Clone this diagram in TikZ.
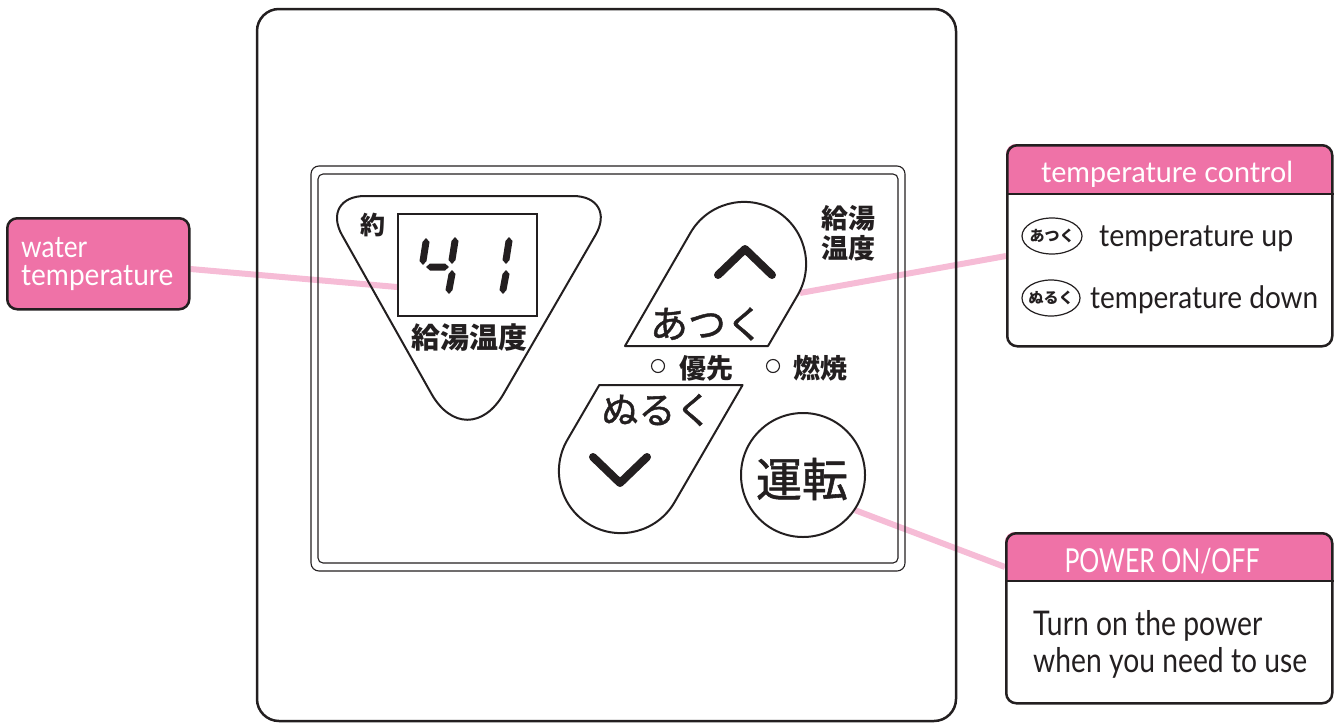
\documentclass[tikz,border=0pt]{standalone}
\usepackage{fontspec}
\usepackage{graphicx}
\usetikzlibrary{shapes.geometric,calc,backgrounds}
\setmainfont{Lato}
\newfontfamily\jp{Noto Sans CJK JP}
\newfontfamily\jpm[FakeBold=1.2]{Noto Sans CJK JP}
\definecolor{pk}{RGB}{239,114,167}
\definecolor{lpk}{RGB}{246,188,214}
\definecolor{ink}{RGB}{35,31,32}
\newcommand\fsz[1]{\fontsize{#1}{#1}\selectfont}
\newcommand\fitw[2]{\resizebox{#1pt}{\height}{#2}}
\newcommand\vseg[4]{\fill[ink] (#1,#2) -- (#1+3.5,#2+4) -- (#3+3.5,#4-4) -- (#3,#4) -- (#3-3.5,#4-4) -- (#1-3.5,#2+4) -- cycle;}
\newcommand\hseg[3]{\fill[ink] (#1,#3) -- (#1+4,#3-3.5) -- (#2-4,#3-3.5) -- (#2,#3) -- (#2-4,#3+3.5) -- (#1+4,#3+3.5) -- cycle;}
\begin{document}
\begin{tikzpicture}[x=1pt,y=-1pt,
  panel/.style={draw=ink,line width=2.5pt,rounded corners=22pt},
  frame/.style={draw=ink,line width=1.1pt,rounded corners=8pt},
  btn/.style={draw=ink,line width=2pt,line join=round},
  conn/.style={draw=lpk,line width=6pt},
  box/.style={draw=ink,line width=2.5pt,rounded corners=10pt,inner sep=0pt,anchor=north west},
  en/.style={inner sep=0pt,anchor=base west,text=ink},
  hd/.style={inner sep=0pt,anchor=base,text=white},
  jpb/.style={inner sep=0pt,text=ink,font=\jp\bfseries},
  jpr/.style={inner sep=0pt,text=ink,font=\jpm},
  chev/.style={draw=ink,line width=8pt,line cap=round,line join=round},
  led/.style={circle,draw=ink,line width=1.1pt,minimum size=13pt,inner sep=0pt}]
\useasboundingbox (0,0) rectangle (1337,723);

% panel and display frame
\draw[panel] (257,9) rectangle (956,721);
\draw[frame] (311,166) rectangle (905,571);
\draw[frame,rounded corners=5pt] (318,174) rectangle (898,563);

% rounded triangle display
\draw[btn] (365,196) -- (573,196)
  .. controls (597.8,196) and (607.9,213.6) .. (595.5,235)
  -- (503.6,393.8)
  .. controls (483.5,428.6) and (450.9,428.4) .. (431.2,393.4)
  -- (342.1,235.2)
  .. controls (329.9,213.6) and (340.25,196) .. (365,196) -- cycle;
\node[draw=ink,line width=2pt,minimum width=139pt,minimum height=102pt,anchor=north west,inner sep=0pt] (disp) at (397,213) {};
\vseg{426}{238}{423}{265}
\hseg{426}{449}{267}
\vseg{455}{237}{452}{264}
\vseg{452}{270}{449}{294}
\vseg{509}{237}{506}{264}
\vseg{506}{270}{503}{294}
\node[jpb] (yaku) at (373,225) {\fsz{25}約};
\node[jpb] (kyuto) at (469,338) {\fsz{29}給湯温度};

% up button
\draw[btn] (625,346) -- (690.4,232.9) arc[start angle=210,end angle=390,radius=62] -- (768,346) -- cycle;
\coordinate (upR) at (800,293);
\draw[chev] (718,275) -- (745,249) -- (772,275);
\node[jpr] (atsuku) at (707,324) {\fsz{38}あつく};
\node[jpb] (kyu2a) at (848,218) {\fsz{27}給湯};
\node[jpb] (kyu2b) at (848,248) {\fsz{27}温度};

% indicators
\node[led] (led1) at (658,366) {};
\node[jpb] (yusen) at (706,368.5) {\fsz{27}優先};
\node[led] (led2) at (773,366) {};
\node[jpb] (nensho) at (820.5,368.5) {\fsz{27}燃焼};

% down button
\draw[btn] (599.3,385) -- (742.6,385) -- (674.6,502.1) arc[start angle=30,end angle=210,radius=62] -- cycle;
\draw[chev] (593,457) -- (620,483) -- (647,457);
\node[jpr] (nuruku) at (657,410) {\fsz{37}ぬるく};

% power button
\node[circle,draw=ink,line width=2pt,minimum size=124pt,inner sep=0pt] (unten) at (803,475) {};
\node[jpr] (untent) at (802,479) {\fsz{46}運転};

% water temperature box
\node[box,fill=pk,minimum width=182pt,minimum height=91pt] (wt) at (6,217) {};
\node[en,text=white] (wt1) at (21,257) {\fsz{30}\fitw{66}{water}};
\node[en,text=white] (wt2) at (21,285) {\fsz{30}\fitw{152}{temperature}};

% temperature control box
\begin{scope}
  \clip[rounded corners=10pt] (1006,144) rectangle (1331,345);
  \fill[pk] (1006,144) rectangle (1331,194);
\end{scope}
\node[box,minimum width=325pt,minimum height=201pt] (tc) at (1006,144) {};
\draw[ink,line width=2pt] ($(tc.north west)+(0,50)$) -- ($(tc.north east)+(0,50)$);
\node[hd] (tct) at (1167,182) {\fsz{29}\fitw{252}{temperature control}};
\node[ellipse,draw=ink,line width=1.2pt,minimum width=60pt,minimum height=36pt,inner sep=0pt] (e1) at (1052,236) {};
\node[jpb] (e1t) at (e1) {\fsz{15}あつく};
\node[en] (tup) at (1099,246) {\fsz{31}\fitw{194}{temperature up}};
\node[ellipse,draw=ink,line width=1.2pt,minimum width=58pt,minimum height=36pt,inner sep=0pt] (e2) at (1051,298) {};
\node[jpb] (e2t) at (e2) {\fsz{15}ぬるく};
\node[en] (tdn) at (1090,308) {\fsz{31}\fitw{228}{temperature down}};

% power box
\begin{scope}
  \clip[rounded corners=10pt] (1005,532) rectangle (1331,702);
  \fill[pk] (1005,532) rectangle (1331,581);
\end{scope}
\node[box,minimum width=326pt,minimum height=170pt] (pw) at (1005,532) {};
\draw[ink,line width=2pt] ($(pw.north west)+(0,49)$) -- ($(pw.north east)+(0,49)$);
\node[hd] (pwt) at (1162,572) {\fsz{33}\fitw{195}{POWER ON/OFF}};
\node[en] (pl1) at (1033,635) {\fsz{34}\fitw{229}{Turn on the power}};
\node[en] (pl2) at (1033,672) {\fsz{34}\fitw{274}{when you need to use}};

% connectors
\begin{scope}[on background layer]
  \draw[conn] ($(wt.north east)+(0,52)$) -- ($(disp.north west)+(0,74)$);
  \draw[conn] (upR) -- ($(tc.north west)+(0,112)$);
  \draw[conn] (unten.-34) -- ($(pw.north west)+(0,35)$);
\end{scope}
\end{tikzpicture}
\end{document}
